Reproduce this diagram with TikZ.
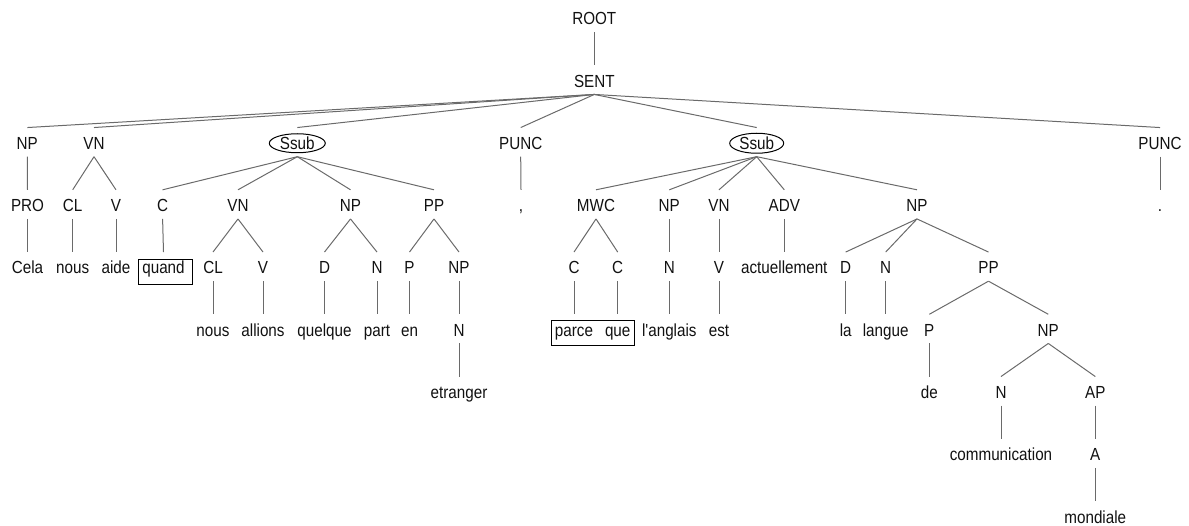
\documentclass[tikz,border=0pt]{standalone}
\usepackage{fontspec}
\setmainfont{Liberation Sans}[FakeStretch=0.87, Ligatures=TeXOff]
\definecolor{txt}{HTML}{111111}
\definecolor{ln}{HTML}{6A6A6A}
\tikzset{
  lbl/.style={anchor=base, inner sep=0pt, text height=21.75pt, text depth=7pt,
              font=\fontsize{17.5}{20}\selectfont, text=txt},
  conn/.style={draw=ln, line width=1pt},
  frame/.style={draw=black, line width=1pt},
}
\begin{document}
\begin{tikzpicture}[x=1pt, y=-1pt]
\useasboundingbox (0,0) rectangle (1189,526);
% level 0-1
\node[lbl] (root) at (594.3,25) {ROOT};
\node[lbl] (sent) at (594.3,87.25) {SENT};
% level 2
\node[lbl] (np1) at (27.3,149.5) {NP};
\node[lbl] (vn1) at (94,149.5) {VN};
\node[lbl] (ss1) at (297.3,149.5) {Ssub};
\node[lbl] (pu1) at (520.7,149.5) {PUNC};
\node[lbl] (ss2) at (756.7,149.5) {Ssub};
\node[lbl] (pu2) at (1160,149.5) {PUNC};
% level 3
\node[lbl] (pro) at (27.5,211.75) {PRO};
\node[lbl] (cl1) at (72.7,211.75) {CL};
\node[lbl] (v1) at (116,211.75) {V};
\node[lbl] (c1) at (162.6,211.75) {C};
\node[lbl] (vn2) at (238,211.75) {VN};
\node[lbl] (np2) at (350.5,211.75) {NP};
\node[lbl] (pp1) at (434,211.75) {PP};
\node[lbl] (comma) at (521,211.75) {,};
\node[lbl] (mwc) at (596,211.75) {MWC};
\node[lbl] (np3) at (669.3,211.75) {NP};
\node[lbl] (vn3) at (719,211.75) {VN};
\node[lbl] (adv) at (784.3,211.75) {ADV};
\node[lbl] (np4) at (917,211.75) {NP};
\node[lbl] (dot) at (1160,211.75) {.};
% level 4
\node[lbl] (cela) at (27.5,274) {Cela};
\node[lbl] (nous1) at (72.7,274) {nous};
\node[lbl] (aide) at (116,274) {aide};
\node[lbl] (quand) at (163.5,274) {quand};
\node[lbl] (cl2) at (213,274) {CL};
\node[lbl] (v2) at (263,274) {V};
\node[lbl] (d1) at (324.5,274) {D};
\node[lbl] (n1) at (377,274) {N};
\node[lbl] (p1) at (409.5,274) {P};
\node[lbl] (np5) at (459,274) {NP};
\node[lbl] (c2) at (574,274) {C};
\node[lbl] (c3) at (617.7,274) {C};
\node[lbl] (n2) at (669.3,274) {N};
\node[lbl] (v3) at (719,274) {V};
\node[lbl] (actu) at (784.3,274) {actuellement};
\node[lbl] (d2) at (845.7,274) {D};
\node[lbl] (n3) at (885.7,274) {N};
\node[lbl] (pp2) at (988.5,274) {PP};
% level 5
\node[lbl] (nous2) at (213,336.25) {nous};
\node[lbl] (allions) at (263,336.25) {allions};
\node[lbl] (quelque) at (324.5,336.25) {quelque};
\node[lbl] (part) at (377,336.25) {part};
\node[lbl] (en) at (409.5,336.25) {en};
\node[lbl] (n4) at (459,336.25) {N};
\node[lbl] (parce) at (574,336.25) {parce};
\node[lbl] (que) at (617.7,336.25) {que};
\node[lbl] (anglais) at (669.3,336.25) {l'anglais};
\node[lbl] (est) at (719,336.25) {est};
\node[lbl] (la) at (845.7,336.25) {la};
\node[lbl] (langue) at (885.7,336.25) {langue};
\node[lbl] (p2) at (929.3,336.25) {P};
\node[lbl] (np6) at (1048.3,336.25) {NP};
% level 6
\node[lbl] (etranger) at (459,398.5) {etranger};
\node[lbl] (de) at (929.3,398.5) {de};
\node[lbl] (n5) at (1001,398.5) {N};
\node[lbl] (ap) at (1095.3,398.5) {AP};
% level 7
\node[lbl] (comm) at (1001,460.75) {communication};
\node[lbl] (a) at (1095.3,460.75) {A};
% level 8
\node[lbl] (mond) at (1095.3,523) {mondiale};
% connectors
\foreach \p/\c in {root/sent,
  sent/np1, sent/vn1, sent/ss1, sent/pu1, sent/ss2, sent/pu2,
  np1/pro, pro/cela, vn1/cl1, vn1/v1, cl1/nous1, v1/aide,
  ss1/c1, ss1/vn2, ss1/np2, ss1/pp1, c1/quand, vn2/cl2, vn2/v2, cl2/nous2, v2/allions,
  np2/d1, np2/n1, d1/quelque, n1/part, pp1/p1, pp1/np5, p1/en, np5/n4, n4/etranger,
  pu1/comma,
  ss2/mwc, ss2/np3, ss2/vn3, ss2/adv, ss2/np4, mwc/c2, mwc/c3, c2/parce, c3/que,
  np3/n2, n2/anglais, vn3/v3, v3/est, adv/actu,
  np4/d2, np4/n3, np4/pp2, d2/la, n3/langue, pp2/p2, pp2/np6, p2/de,
  np6/n5, np6/ap, n5/comm, ap/a, a/mond,
  pu2/dot}
  \draw[conn] (\p.south) -- (\c.north);
% ellipses and boxes
\draw[frame] ([yshift=6.25pt]ss1.base) ellipse [x radius=28pt, y radius=9.5pt];
\draw[frame] ([yshift=6.25pt]ss2.base) ellipse [x radius=27pt, y radius=10pt];
\draw[frame] ([xshift=-25pt,yshift=14.5pt]quand.base) rectangle ([xshift=28.5pt,yshift=-11pt]quand.base);
\draw[frame] ([xshift=-23pt,yshift=15.25pt]parce.base) rectangle ([xshift=17pt,yshift=-9.25pt]que.base);
\end{tikzpicture}
\end{document}
